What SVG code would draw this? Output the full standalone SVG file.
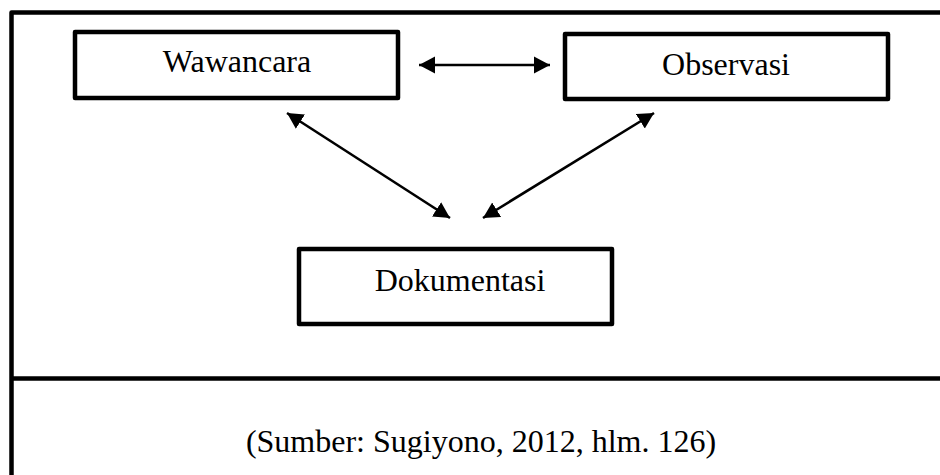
<svg xmlns="http://www.w3.org/2000/svg" width="940" height="475" viewBox="0 0 940 475">
  <style>
    .box { fill: #ffffff; stroke: #000000; stroke-width: 4.5; stroke-linejoin: round; }
    .frame { fill: none; stroke: #000000; stroke-width: 4.5; stroke-linejoin: round; }
    .lbl { font-family: "Liberation Serif", "Times New Roman", serif; font-size: 32px; fill: #000000; text-anchor: middle; }
    .conn { stroke: #000000; stroke-width: 2.6; fill: none; marker-start: url(#ah); marker-end: url(#ah); }
  </style>
  <defs>
    <marker id="ah" markerUnits="userSpaceOnUse" markerWidth="17" markerHeight="18" refX="16" refY="8.5" orient="auto-start-reverse" viewBox="0 0 17 17">
      <path d="M0,0 L16,8.5 L0,17 z" fill="#000000"/>
    </marker>
  </defs>
  <rect x="0" y="0" width="940" height="475" fill="#ffffff"/>
  <g id="frame">
    <path class="frame" d="M945,12.5 L11.5,12.5 L11.5,480"/>
    <line x1="11.5" y1="378.5" x2="945" y2="378.5" stroke="#000000" stroke-width="4.5"/>
  </g>
  <g id="connectors">
    <line class="conn" x1="419" y1="65" x2="550" y2="65"/>
    <line class="conn" x1="287" y1="113" x2="450" y2="218"/>
    <line class="conn" x1="654" y1="113" x2="483" y2="218"/>
  </g>
  <g id="wawancara">
    <rect class="box" x="75" y="32" width="323" height="66"/>
    <text class="lbl" x="237" y="72">Wawancara</text>
  </g>
  <g id="observasi">
    <rect class="box" x="565" y="34" width="323" height="65"/>
    <text class="lbl" x="726" y="75">Observasi</text>
  </g>
  <g id="dokumentasi">
    <rect class="box" x="299" y="249" width="313" height="75"/>
    <text class="lbl" x="460" y="291">Dokumentasi</text>
  </g>
  <g id="caption">
    <text class="lbl" x="481" y="452">(Sumber: Sugiyono, 2012, hlm. 126)</text>
  </g>
</svg>
